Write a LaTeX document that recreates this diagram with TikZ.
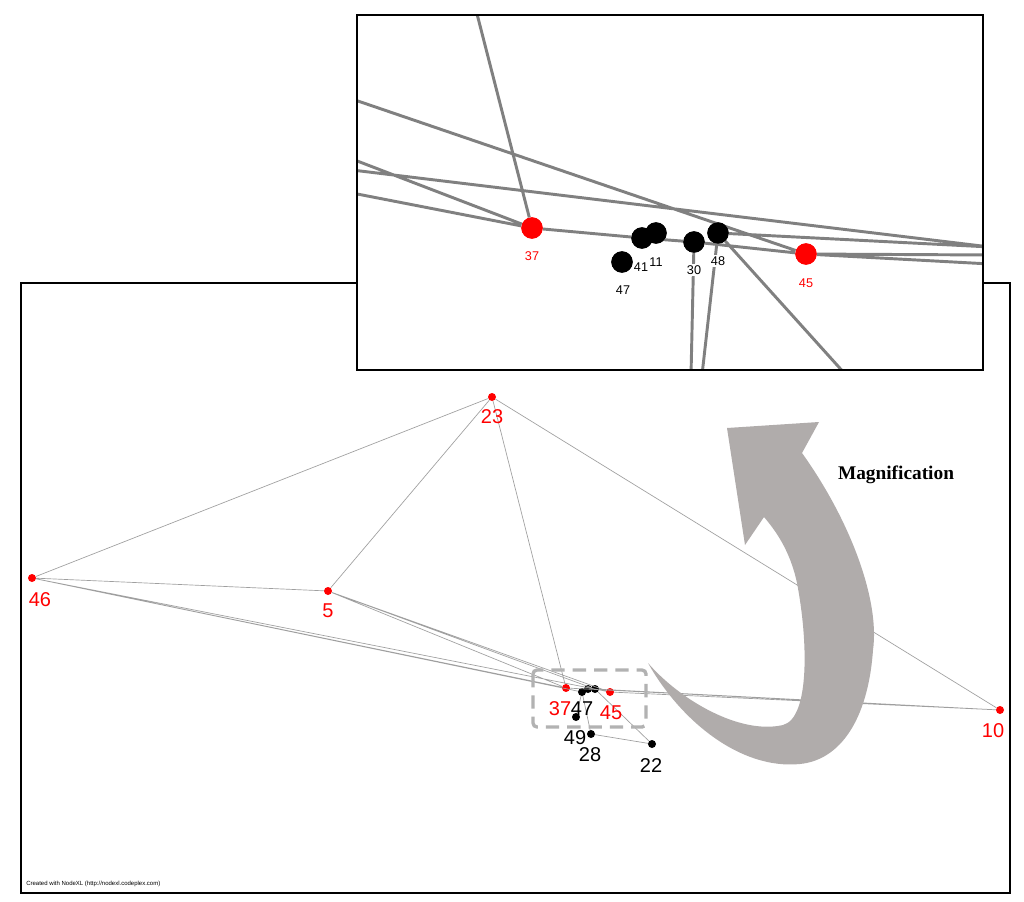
\documentclass[tikz,border=0pt]{standalone}
\usepackage{fontspec}
\setmainfont{Liberation Sans}
\newfontfamily\serifb{Liberation Serif}
\definecolor{arrowgray}{RGB}{176,172,171}
\begin{document}
\begin{tikzpicture}[x=0.75pt,y=-0.75pt,
  rn/.style={circle,fill=red,inner sep=0pt,minimum size=6pt},
  bn/.style={circle,fill=black,inner sep=0pt,minimum size=6pt},
  rbig/.style={circle,fill=red,inner sep=0pt,minimum size=16pt},
  bbig/.style={circle,fill=black,inner sep=0pt,minimum size=16pt},
  rl/.style={text=red,font=\fontsize{15}{15}\selectfont,inner sep=0pt},
  bl/.style={text=black,font=\fontsize{15}{15}\selectfont,inner sep=0pt},
  srl/.style={text=red,font=\fontsize{9.5}{10}\selectfont,inner sep=0pt},
  sbl/.style={text=black,font=\fontsize{9.5}{10}\selectfont,inner sep=0pt},
  edge/.style={draw=gray!75,line width=0.5pt},
  bedge/.style={draw=gray,line width=2.2pt},
  frame/.style={draw=black,line width=1.5pt}]
\useasboundingbox (0,0) rectangle (1024,902);
\fill[white] (0,0) rectangle (1024,902);
\draw[frame] (21,283) rectangle (1010,893);
% main nodes
\node[rn] (n23) at (492,397) {};
\node[rn] (n46) at (32,578) {};
\node[rn] (n5) at (328,591) {};
\node[rn] (n10) at (1000,710) {};
\node[rn] (n37) at (566,688) {};
\node[rn] (n45) at (610,692) {};
\node[bn] (n41) at (582,692) {};
\node[bn] (n11) at (588,689) {};
\node[bn] (n30) at (595,689) {};
\node[bn] (n47) at (576,717) {};
\node[bn] (n28) at (591,734) {};
\node[bn] (n22) at (652,744) {};
\draw[edge] (n46)--(n23) (n46)--(n5) (n46)--(n37) (n46)--(n41) (n46)--(n45)
 (n23)--(n5) (n23)--(n37) (n23)--(n10) (n5)--(n37) (n5)--(n45) (n5)--(n30)
 (n37)--(n10) (n45)--(n10) (n30)--(n10) (n30)--(n22) (n28)--(n22) (n41)--(n28) (n47)--(n41);
\node[rl] at (492,417) {23};
\node[rl] at (40,600) {46};
\node[rl] at (328,611) {5};
\node[rl] at (993,731) {10};
\node[rl] at (560,709) {37};
\node[rl] at (611,713) {45};
\node[bl] at (582,709) {47};
\node[bl] at (575,738) {49};
\node[bl] at (590,755) {28};
\node[bl] at (651,766) {22};
\draw[gray!60,line width=2.5pt,dash pattern=on 10pt off 6pt,rounded corners=3pt] (533,670) rectangle (646,727);
% arrow
\fill[arrowgray] (648,663) .. controls (680,700) and (740,735) .. (783,725)
  .. controls (810,718) and (808,640) .. (797,583) .. controls (790,550) and (775,530) .. (764,517)
  -- (745,545) -- (727,428) -- (819,422) -- (802,453)
  .. controls (850,520) and (880,600) .. (873,650) .. controls (868,720) and (840,760) .. (800,764)
  .. controls (740,770) and (680,720) .. (648,663) -- cycle;
\node[font=\serifb\bfseries\fontsize{14.5}{15}\selectfont] at (896,475) {Magnification};
\node[anchor=west,font=\fontsize{4.5}{5}\selectfont,inner sep=0pt] at (26,884) {Created with NodeXL (http://nodexl.codeplex.com)};
% inset
\fill[white] (357,15) rectangle (983,370);
\begin{scope}
\clip (357,15) rectangle (983,370);
\node[rbig] (m37) at (532,228) {};
\node[rbig] (m45) at (806,254) {};
\node[bbig] (m47) at (622,262) {};
\node[bbig] (m41) at (642,238) {};
\node[bbig] (m11) at (656,233) {};
\node[bbig] (m30) at (694,242) {};
\node[bbig] (m48) at (718,233) {};
\coordinate (t1) at (476,10);
\coordinate (l1) at (352,99);
\coordinate (l2) at (352,159);
\coordinate (l3) at (352,170);
\coordinate (l4) at (352,193);
\coordinate (r1) at (990,247);
\coordinate (r2) at (990,255);
\coordinate (r3) at (990,264);
\coordinate (b1) at (691,375);
\coordinate (b2) at (702,375);
\coordinate (b3) at (846,375);
\draw[bedge] (t1)--(m37) (l1)--(m45) (l2)--(m37) (l3)--(r1) (l4)--(m37)
  (m37)--(m41) (m41)--(m30) (m30)--(m45) (m45)--(r3) (m45)--(r2) (m48)--(r1)
  (m30)--(b1) (m48)--(b2) (m48)--(b3);
\node[rbig] at (532,228) {};
\node[rbig] at (806,254) {};
\node[bbig] at (622,262) {};
\node[bbig] at (642,238) {};
\node[bbig] at (656,233) {};
\node[bbig] at (694,242) {};
\node[bbig] at (718,233) {};
\node[srl] at (532,256) {37};
\node[srl] at (806,283) {45};
\node[sbl] at (623,290) {47};
\node[sbl] at (641,267) {41};
\node[sbl] at (656,262) {11};
\node[sbl,fill=white,inner sep=1pt] at (694,270) {30};
\node[sbl,fill=white,inner sep=1pt] at (718,261) {48};
\end{scope}
\draw[frame] (357,15) rectangle (983,370);
\end{tikzpicture}
\end{document}
